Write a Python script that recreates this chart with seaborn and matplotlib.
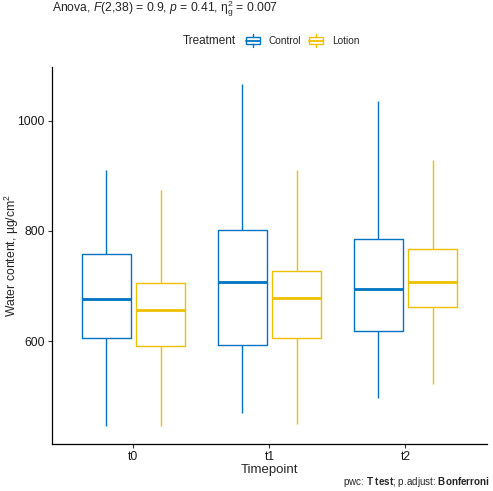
import numpy as np
import pandas as pd
import matplotlib
matplotlib.use("Agg")
import matplotlib.pyplot as plt
import seaborn as sns
from matplotlib.legend_handler import HandlerBase
from matplotlib.lines import Line2D
from matplotlib.patches import Rectangle

# Data: five-number summaries (min, Q1, median, Q3, max)
timepoints = ["t0", "t1", "t2"]
treatments = ["Control", "Lotion"]
control_t0 = [445, 606, 676, 759, 911]
lotion_t0 = [445, 591, 657, 705, 874]
control_t1 = [470, 593, 707, 802, 1067]
lotion_t1 = [450, 605, 679, 727, 911]
control_t2 = [497, 619, 694, 786, 1037]
lotion_t2 = [522, 662, 708, 768, 929]
colors = {"Control": "#0073C2", "Lotion": "#EFC000"}

rows = []
for tp, c, l in [("t0", control_t0, lotion_t0), ("t1", control_t1, lotion_t1),
                 ("t2", control_t2, lotion_t2)]:
    for v in c:
        rows.append((tp, "Control", v))
    for v in l:
        rows.append((tp, "Lotion", v))
df = pd.DataFrame(rows, columns=["Timepoint", "Treatment", "Water"])

sns.set_theme(style="white")
plt.rcParams["font.family"] = ["Liberation Sans", "DejaVu Sans"]
plt.rcParams["mathtext.fontset"] = "custom"
plt.rcParams["mathtext.rm"] = "Liberation Sans"
plt.rcParams["mathtext.it"] = "Liberation Sans:italic"
plt.rcParams["mathtext.bf"] = "Liberation Sans:bold"

fig = plt.figure(figsize=(4.93, 4.91), dpi=100)
ax = fig.add_axes([0.105, 0.0957, 0.883, 0.768])

sns.boxplot(data=df, x="Timepoint", y="Water", hue="Treatment", order=timepoints,
            hue_order=treatments, palette=colors, fill=False, whis=(0, 100),
            width=0.8, gap=0.1, linewidth=1.0, showfliers=False, showcaps=False,
            medianprops={"linewidth": 2.0}, legend=False, ax=ax)

ax.set_xlim(-0.6, 2.6)
ax.set_ylim(413, 1098)
ax.set_yticks([600, 800, 1000])
for s in ["top", "right"]:
    ax.spines[s].set_visible(False)
for s in ["left", "bottom"]:
    ax.spines[s].set_color("black")
    ax.spines[s].set_linewidth(0.9)
ax.tick_params(axis="both", direction="out", length=3, width=0.8, color="#333333",
               labelsize=8.7, labelcolor="#1a1a1a", left=True, bottom=True, pad=2)
ax.set_xlabel("Timepoint", fontsize=9.5, labelpad=1)
ax.set_ylabel("Water content, µg/cm$^2$", fontsize=8.8)
ax.yaxis.label.set_verticalalignment("center")
ax.yaxis.set_label_coords((12 - 52) / 435, 0.5)

fig.text(0.105, 0.982,
         r"Anova, $\it{F}$(2,38) = 0.9, $\it{p}$ = 0.41, $\mathrm{\eta^2_g}$ = 0.007",
         fontsize=8.7, ha="left", va="center")
fig.text(0.994, 0.018, r"pwc: $\bf{T\ test}$; p.adjust: $\bf{Bonferroni}$",
         fontsize=7.1, ha="right", va="center")


class BoxHandler(HandlerBase):
    def create_artists(self, legend, orig_handle, xdescent, ydescent, width, height,
                       fontsize, trans):
        c = orig_handle.get_color()
        cx = -xdescent + width / 2
        bw = width
        bh = height * 0.85
        y0 = -ydescent + (height - bh) / 2
        rect = Rectangle((cx - bw / 2, y0), bw, bh, fill=False, edgecolor=c,
                         linewidth=1.0, transform=trans)
        med = Line2D([cx - bw / 2, cx + bw / 2], [y0 + bh / 2] * 2, color=c,
                     linewidth=1.3, transform=trans)
        w1 = Line2D([cx, cx], [y0 + bh, y0 + bh + height * 0.3], color=c,
                    linewidth=1.0, transform=trans)
        w2 = Line2D([cx, cx], [y0, y0 - height * 0.3], color=c,
                    linewidth=1.0, transform=trans)
        return [rect, med, w1, w2]


fig.text(183 / 493, 0.9165, "Treatment", fontsize=8.5, ha="left", va="center")
handles = [Line2D([], [], color=colors[t]) for t in treatments]
leg = fig.legend(handles, treatments, loc="center left",
                 bbox_to_anchor=(246 / 493, 0.9165), ncol=2, frameon=False,
                 fontsize=7.3, handler_map={Line2D: BoxHandler()},
                 handlelength=1.35, handleheight=0.9, handletextpad=0.9,
                 columnspacing=0.8, borderpad=0, borderaxespad=0)

fig.savefig("out.png", dpi=100)
